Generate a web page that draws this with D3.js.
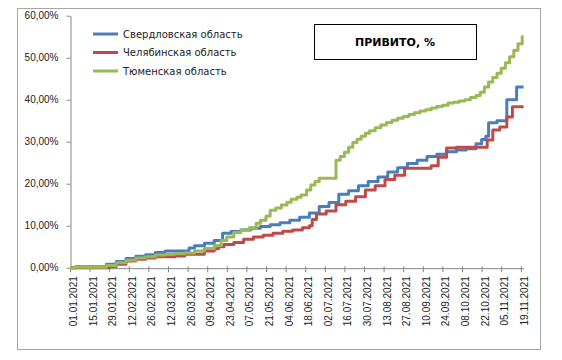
<!DOCTYPE html>
<html>
<head>
<meta charset="utf-8">
<script src="https://cdn.jsdelivr.net/npm/d3@7"></script>
<style>
  body { margin: 0; background: #fff; }
  svg { display: block; font-family: "DejaVu Sans", Verdana, sans-serif; }
</style>
</head>
<body>
<div id="chart"></div>
<script>
const seriesNames = ["Свердловская область", "Челябинская область", "Тюменская область"];
const seriesColors = ["#4a7ebb", "#be4b48", "#98b954"];

// [date, percent]
const sverdlovsk = [
  ["01.01", 0], ["05.01", 0.2], ["27.01", 0.8], ["03.02", 1.5], ["10.02", 2.2],
  ["17.02", 2.7], ["24.02", 3.1], ["03.03", 3.6], ["10.03", 4.0], ["27.03", 4.7],
  ["31.03", 5.2], ["07.04", 5.8], ["14.04", 6.5], ["20.04", 8.2], ["26.04", 8.6],
  ["03.05", 9.0], ["10.05", 9.4], ["17.05", 9.8], ["24.05", 10.2], ["31.05", 10.7],
  ["07.06", 11.3], ["14.06", 12.0], ["21.06", 13.0], ["28.06", 14.6], ["05.07", 15.5],
  ["12.07", 17.5], ["19.07", 18.3], ["26.07", 19.5], ["02.08", 20.5], ["09.08", 21.6],
  ["16.08", 22.8], ["23.08", 23.8], ["30.08", 24.8], ["06.09", 25.6], ["13.09", 26.5],
  ["20.09", 27.0], ["27.09", 27.6], ["04.10", 28.0], ["11.10", 28.3], ["18.10", 29.5],
  ["22.10", 30.5], ["25.10", 31.3], ["27.10", 34.5], ["02.11", 35.0], ["09.11", 40.0],
  ["16.11", 43.0], ["21.11", 43.0]
];

const chelyabinsk = [
  ["01.01", 0], ["29.01", 0.3], ["03.02", 0.8], ["10.02", 1.6], ["17.02", 2.0],
  ["24.02", 2.3], ["03.03", 2.6], ["17.03", 2.8], ["24.03", 3.2], ["07.04", 4.0],
  ["14.04", 4.5], ["17.04", 5.0], ["21.04", 5.5], ["28.04", 6.0], ["05.05", 6.8],
  ["12.05", 7.3], ["19.05", 7.7], ["26.05", 8.2], ["02.06", 8.7], ["09.06", 9.0],
  ["16.06", 9.5], ["21.06", 10.0], ["23.06", 11.5], ["26.06", 12.8], ["03.07", 13.5],
  ["10.07", 15.0], ["17.07", 15.8], ["24.07", 16.9], ["31.07", 18.5], ["07.08", 19.5],
  ["14.08", 21.0], ["21.08", 22.0], ["28.08", 23.7], ["16.09", 24.3], ["21.09", 26.3],
  ["27.09", 28.5], ["04.10", 28.7], ["26.10", 30.4], ["30.10", 32.8], ["04.11", 33.5],
  ["09.11", 35.9], ["13.11", 38.3], ["21.11", 38.3]
];

const tyumen = [
  ["01.01", 0], ["05.01", 0.1], ["27.01", 0.5], ["03.02", 1.2], ["10.02", 1.8],
  ["17.02", 2.3], ["24.02", 2.6], ["03.03", 3.0], ["10.03", 3.2], ["17.03", 3.3],
  ["24.03", 3.5], ["31.03", 4.0], ["07.04", 4.6], ["14.04", 5.3], ["19.04", 6.5],
  ["23.04", 7.3], ["28.04", 8.4], ["03.05", 9.0], ["09.05", 9.5], ["14.05", 10.6],
  ["17.05", 11.3], ["21.05", 12.3], ["24.05", 13.7], ["28.05", 14.2], ["01.06", 14.9],
  ["05.06", 15.6], ["08.06", 16.3], ["12.06", 16.8], ["15.06", 17.3], ["19.06", 18.5],
  ["22.06", 19.7], ["25.06", 20.5], ["28.06", 21.3], ["10.07", 25.6], ["13.07", 26.5],
  ["16.07", 27.5], ["19.07", 28.7], ["22.07", 29.8], ["25.07", 30.6], ["28.07", 31.3],
  ["31.07", 32.0], ["03.08", 32.6], ["07.08", 33.3], ["11.08", 34.0], ["15.08", 34.6],
  ["19.08", 35.1], ["23.08", 35.6], ["27.08", 36.0], ["31.08", 36.5], ["04.09", 36.9],
  ["08.09", 37.3], ["12.09", 37.6], ["16.09", 38.0], ["20.09", 38.4], ["24.09", 38.7],
  ["28.09", 39.2], ["02.10", 39.4], ["06.10", 39.7], ["10.10", 40.0], ["14.10", 40.5],
  ["18.10", 41.0], ["21.10", 41.8], ["24.10", 43.0], ["27.10", 44.2], ["30.10", 45.3],
  ["02.11", 46.3], ["05.11", 47.5], ["08.11", 48.8], ["11.11", 50.2], ["14.11", 51.8],
  ["17.11", 53.3], ["20.11", 55.0], ["21.11", 55.0]
];

const xTickLabels = [
  "01.01.2021", "15.01.2021", "29.01.2021", "12.02.2021", "26.02.2021", "12.03.2021",
  "26.03.2021", "09.04.2021", "23.04.2021", "07.05.2021", "21.05.2021", "04.06.2021",
  "18.06.2021", "02.07.2021", "16.07.2021", "30.07.2021", "13.08.2021", "27.08.2021",
  "10.09.2021", "24.09.2021", "08.10.2021", "22.10.2021", "05.11.2021", "19.11.2021"
];
const yTicks = [0, 0.1, 0.2, 0.3, 0.4, 0.5, 0.6];
const title = "ПРИВИТО, %";

const W = 562, H = 360;
const plot = { left: 70, right: 523.6, top: 15.7, bottom: 267.7 };

const parseShort = d3.utcParse("%d.%m.%Y");
const toDate = (s) => parseShort(s.length === 5 ? s + ".2021" : s);

const ru = d3.formatLocale({ decimal: ",", thousands: " ", grouping: [3], currency: ["", " ₽"] });
const pct = ru.format(".2%");

const svg = d3.select("#chart").append("svg").attr("width", W).attr("height", H);

// chart border
svg.append("rect")
  .attr("x", 17.5).attr("y", 8.5)
  .attr("width", 523).attr("height", 341)
  .attr("fill", "#fff").attr("stroke", "#a6a6a6");

const x = d3.scaleUtc()
  .domain([toDate("01.01"), toDate("21.11")])
  .range([plot.left, plot.right]);

const y = d3.scaleLinear()
  .domain([0, 0.6])
  .range([plot.bottom, plot.top]);

// y axis
const yAxis = svg.append("g")
  .attr("transform", `translate(${plot.left + 0.5},0)`)
  .call(d3.axisLeft(y).tickValues(yTicks).tickFormat(pct).tickSize(4).tickSizeOuter(0).tickPadding(8));
yAxis.select(".domain").attr("stroke", "#868686");
yAxis.selectAll(".tick line").attr("stroke", "#868686");
yAxis.selectAll("text").attr("fill", "#222").style("font-size", "10px");

// x axis
const xAxis = svg.append("g")
  .attr("transform", `translate(0,${plot.bottom + 0.5})`)
  .call(d3.axisBottom(x).tickValues(xTickLabels.map(toDate))
    .tickFormat(d3.utcFormat("%d.%m.%Y")).tickSize(4).tickSizeOuter(0));
xAxis.select(".domain").attr("stroke", "#868686");
xAxis.selectAll(".tick line").attr("stroke", "#868686").attr("y1", -2);
xAxis.selectAll("text")
  .attr("fill", "#222")
  .style("font-size", "10px")
  .attr("transform", "rotate(-90)")
  .attr("text-anchor", "end")
  .attr("x", -8)
  .attr("y", 3)
  .attr("dy", "0.35em");

// lines
const line = d3.line()
  .x((d) => x(toDate(d[0])))
  .y((d) => y(d[1] / 100))
  .curve(d3.curveStepAfter);

[sverdlovsk, chelyabinsk, tyumen].forEach((data, i) => {
  svg.append("path")
    .datum(data)
    .attr("d", line)
    .attr("fill", "none")
    .attr("stroke", seriesColors[i])
    .attr("stroke-width", 3)
    .attr("stroke-linejoin", "round");
});

// legend
const legend = svg.append("g").attr("transform", "translate(93,34)");
seriesNames.forEach((name, i) => {
  const g = legend.append("g").attr("transform", `translate(0,${i * 18.5})`);
  g.append("line")
    .attr("x1", 0).attr("x2", 25)
    .attr("stroke", seriesColors[i]).attr("stroke-width", 3);
  g.append("text")
    .attr("x", 30).attr("dy", "0.35em")
    .attr("fill", "#222")
    .style("font-size", "10px")
    .text(name);
});

// title box
svg.append("rect")
  .attr("x", 314.5).attr("y", 24.5)
  .attr("width", 162).attr("height", 35)
  .attr("fill", "#fff").attr("stroke", "#000");
svg.append("text")
  .attr("x", 395).attr("y", 46)
  .attr("text-anchor", "middle")
  .style("font-size", "11px")
  .style("font-weight", "bold")
  .attr("fill", "#000")
  .text(title);
</script>
</body>
</html>
